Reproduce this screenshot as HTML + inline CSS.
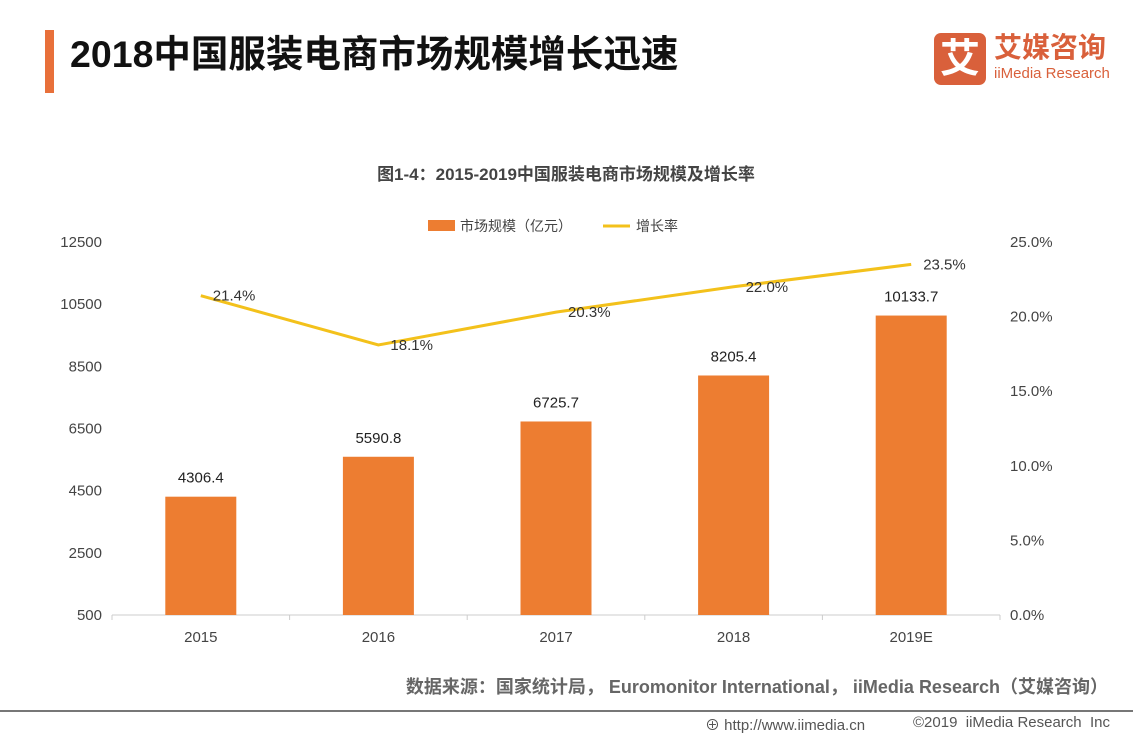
<!DOCTYPE html>
<html><head><meta charset="utf-8"><style>
body{margin:0;width:1133px;height:737px;background:#fff;overflow:hidden;position:relative;font-family:"Liberation Sans","Noto Sans CJK SC",sans-serif}
.abs{position:absolute}
</style></head><body>
<div class="abs" style="left:45px;top:30px;width:9px;height:63px;background:#e8703a"></div>
<div class="abs" style="left:70px;top:29px;font-size:37.5px;font-weight:bold;color:#111;line-height:50px;white-space:nowrap">2018中国服装电商市场规模增长迅速</div>
<div class="abs" style="left:934px;top:33px;width:180px;height:52px">
 <div class="abs" style="left:0;top:0;width:52px;height:52px;background:#d9603b;border-radius:7px;color:#fff;font-size:40px;font-weight:bold;text-align:center;line-height:52px">艾</div>
 <div class="abs" style="left:60px;top:-2px;font-size:28px;font-weight:bold;color:#d9603b;white-space:nowrap;line-height:34px">艾媒咨询</div>
 <div class="abs" style="left:60px;top:32px;font-size:15px;color:#d9603b;white-space:nowrap">iiMedia Research</div>
</div>
<svg class="abs" style="left:0;top:0" width="1133" height="737" id="chart"></svg>
<div class="abs" style="right:25px;top:673px;font-size:18px;font-weight:bold;color:#666;white-space:nowrap">数据来源：国家统计局， Euromonitor International， iiMedia Research（艾媒咨询）</div>
<div class="abs" style="left:0;top:710px;width:1133px;height:2px;background:#777"></div>
<div class="abs" style="left:705px;top:714px;font-size:15px;color:#555;white-space:nowrap">⊕ http://www.iimedia.cn</div>
<div class="abs" style="left:913px;top:714px;font-size:15px;color:#555;white-space:nowrap">©2019&nbsp; iiMedia Research&nbsp; Inc</div>
<script>
const categories=["2015","2016","2017","2018","2019E"];
const marketSize=[4306.4,5590.8,6725.7,8205.4,10133.7];
const growthRate=[21.4,18.1,20.3,22.0,23.5];
const leftTicks=[500,2500,4500,6500,8500,10500,12500];
const rightTicks=[0,5,10,15,20,25];
const svg=document.getElementById('chart');
const NS='http://www.w3.org/2000/svg';
const X0=112,X1=1000,Y0=615,Y1=242;
const yL=v=>Y0-(v-500)/12000*(Y0-Y1);
const yR=v=>Y0-v/25*(Y0-Y1);
const bw=(X1-X0)/categories.length;
const xC=i=>X0+bw*(i+0.5);
function el(t,a,txt){const e=document.createElementNS(NS,t);for(const k in a)e.setAttribute(k,a[k]);if(txt!=null)e.textContent=txt;svg.appendChild(e);return e;}
const F='"Liberation Sans","Noto Sans CJK SC",sans-serif';
let t=el('text',{x:566,y:180,'text-anchor':'middle','font-size':17,'font-weight':'bold',fill:'#444','font-family':F},'图1-4：2015-2019中国服装电商市场规模及增长率');


let r=el('rect',{x:428,y:220,width:27,height:11,fill:'#ed7d31'});


t=el('text',{x:460,y:231,'font-size':14,fill:'#444','font-family':F},'市场规模（亿元）');


let l=el('line',{x1:603,y1:226,x2:630,y2:226,stroke:'#f3c11b','stroke-width':3});


t=el('text',{x:636,y:231,'font-size':14,fill:'#444','font-family':F},'增长率');


leftTicks.forEach(v=>{const e=el('text',{x:102,y:yL(v)+5,'text-anchor':'end','font-size':15,fill:'#444','font-family':F},v);

});
rightTicks.forEach(v=>{const e=el('text',{x:1010,y:yR(v)+5,'font-size':15,fill:'#444','font-family':F},v.toFixed(1)+'%');

});
l=el('line',{x1:X0,y1:Y0,x2:X1,y2:Y0,stroke:'#ccc','stroke-width':1});


for(let i=0;i<=categories.length;i++){const e=el('line',{x1:X0+bw*i,y1:Y0,x2:X0+bw*i,y2:Y0+5,stroke:'#ccc'});

}
categories.forEach((c,i)=>{const e=el('text',{x:xC(i),y:642,'text-anchor':'middle','font-size':15,fill:'#444','font-family':F},c);

});
marketSize.forEach((v,i)=>{const y=yL(v);
const b=el('rect',{x:xC(i)-35.5,y:y,width:71,height:Y0-y,fill:'#ed7d31'});


const e=el('text',{x:xC(i),y:y-14,'text-anchor':'middle','font-size':15,fill:'#222','font-family':F},v.toFixed(1));

});
const p=el('polyline',{points:growthRate.map((v,i)=>xC(i)+','+yR(v)).join(' '),fill:'none',stroke:'#f3c11b','stroke-width':3});


growthRate.forEach((v,i)=>{const e=el('text',{x:xC(i)+12,y:yR(v)+5,'font-size':15,fill:'#333','font-family':F},v.toFixed(1)+'%');

});
</script>
</body></html>
